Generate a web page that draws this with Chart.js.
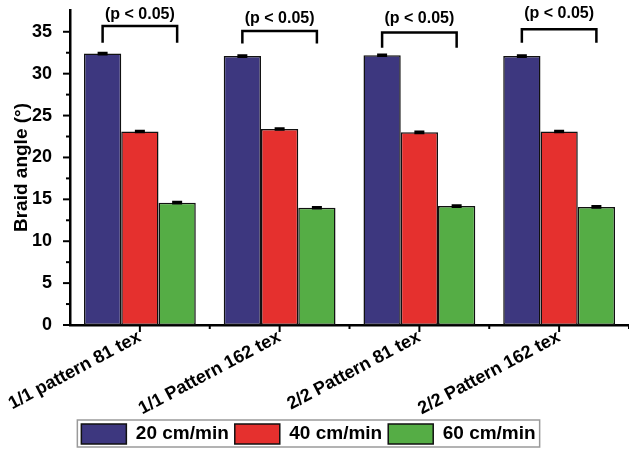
<!DOCTYPE html>
<html>
<head>
<meta charset="utf-8">
<script src="https://cdn.jsdelivr.net/npm/chart.js@4.4.1/dist/chart.umd.min.js"></script>
<style>
  html, body { margin:0; padding:0; background:#fff; }
  #wrap { width:629px; height:449px; }
</style>
</head>
<body>
<div id="wrap"><canvas id="c"></canvas></div>
<script>
// data
const categories = ['1/1 pattern 81 tex', '1/1 Pattern 162 tex', '2/2 Pattern 81 tex', '2/2 Pattern 162 tex'];
const seriesNames = ['20 cm/min', '40 cm/min', '60 cm/min'];
const speed20 = [32.4, 32.1, 32.2, 32.1];
const speed40 = [23.1, 23.4, 23.0, 23.1];
const speed60 = [14.6, 14.0, 14.2, 14.1];
const err20 = [0.1, 0.1, 0.1, 0.1];
const err40 = [0.1, 0.1, 0.1, 0.1];
const err60 = [0.1, 0.1, 0.1, 0.1];
const yTicks = [0, 5, 10, 15, 20, 25, 30, 35];
const pLabel = '(p < 0.05)';
const bracketTop = [35.7, 35.1, 34.9, 35.3];
const bracketLeg = [33.7, 33.6, 33.1, 33.7];
const pTextAt = [37.05, 36.6, 36.6, 37.2];

const COLORS = ['#3d377f', '#e5302e', '#55ad45'];
const FONT = "'Liberation Sans', Arial, sans-serif";
const INK = '#000';

const values = [speed20, speed40, speed60];
const errors = [err20, err40, err60];

const extras = {
  id: 'extras',
  afterLayout(chart) {
    // legend box sits a little left of centre in the figure
    chart.legend.left -= 6;
    chart.legend.right -= 6;
  },
  afterDatasetsDraw(chart) {
    const { ctx, scales: { y } } = chart;
    ctx.save();
    ctx.strokeStyle = INK;
    ctx.lineWidth = 2;
    values.forEach((vals, d) => {
      chart.getDatasetMeta(d).data.forEach((bar, i) => {
        const hi = y.getPixelForValue(vals[i] + errors[d][i]);
        const lo = y.getPixelForValue(vals[i] - errors[d][i]);
        ctx.beginPath();
        ctx.moveTo(bar.x, hi); ctx.lineTo(bar.x, lo);
        ctx.moveTo(bar.x - 5, hi); ctx.lineTo(bar.x + 5, hi);
        ctx.moveTo(bar.x - 5, lo); ctx.lineTo(bar.x + 5, lo);
        ctx.stroke();
      });
    });
    ctx.restore();
  },
  afterDraw(chart) {
    const { ctx, chartArea: a, scales: { x, y } } = chart;
    ctx.save();
    ctx.strokeStyle = INK;
    ctx.lineWidth = 2;
    // y ticks, major + minor
    for (let v = 0; v <= 35; v += 2.5) {
      const py = y.getPixelForValue(v);
      const len = v % 5 === 0 ? 7 : 4;
      ctx.beginPath(); ctx.moveTo(a.left - len, py); ctx.lineTo(a.left, py); ctx.stroke();
    }
    // x ticks
    categories.forEach((c, i) => {
      const px = x.getPixelForValue(i);
      ctx.beginPath(); ctx.moveTo(px, a.bottom); ctx.lineTo(px, a.bottom + 7); ctx.stroke();
      const bx = x.getPixelForValue(i + 0.5);
      ctx.beginPath(); ctx.moveTo(bx, a.bottom); ctx.lineTo(bx, a.bottom + 4); ctx.stroke();
    });
    // significance brackets
    const m0 = chart.getDatasetMeta(0), m2 = chart.getDatasetMeta(2);
    ctx.lineWidth = 2.5;
    ctx.fillStyle = INK;
    ctx.font = 'bold 16px ' + FONT;
    ctx.textAlign = 'center';
    ctx.textBaseline = 'middle';
    categories.forEach((c, i) => {
      const x1 = m0.data[i].x, x2 = m2.data[i].x;
      const yt = y.getPixelForValue(bracketTop[i]);
      const yl = y.getPixelForValue(bracketLeg[i]);
      ctx.beginPath();
      ctx.moveTo(x1, yl); ctx.lineTo(x1, yt); ctx.lineTo(x2, yt); ctx.lineTo(x2, yl);
      ctx.stroke();
      ctx.fillText(pLabel, (x1 + x2) / 2, y.getPixelForValue(pTextAt[i]));
    });
    // legend frame
    const hb = chart.legend.legendHitBoxes;
    if (hb && hb.length) {
      const last = hb[hb.length - 1];
      const l = hb[0].left - 4, r = last.left + last.width + 4;
      const t = hb[0].top - 4, b = hb[0].top + 23;
      ctx.strokeStyle = '#9a9a9a';
      ctx.lineWidth = 1.5;
      ctx.strokeRect(l, t, r - l, b - t);
    }
    ctx.restore();
  }
};

new Chart(document.getElementById('c'), {
  type: 'bar',
  data: {
    labels: categories,
    datasets: seriesNames.map((name, d) => ({
      label: name,
      data: values[d],
      backgroundColor: COLORS[d],
      borderColor: '#111',
      borderWidth: 1.5,
      borderSkipped: false,
      categoryPercentage: 0.8,
      barPercentage: 1.0,
    })),
  },
  options: {
    responsive: true, maintainAspectRatio: false,
    animation: false,
    layout: { padding: { left: 0, right: 0, top: 10, bottom: -5 } },
    plugins: {
      tooltip: { enabled: false },
      legend: {
        position: 'bottom',
        labels: {
          color: INK, font: { family: FONT, size: 19, weight: 'bold' },
          boxWidth: 45, boxHeight: 20, padding: 6,
        },
      },
    },
    scales: {
      x: {
        grid: { display: false, drawTicks: false },
        border: { display: true, color: INK, width: 2.5 },
        ticks: {
          color: INK, font: { family: FONT, size: 18, weight: 'bold', lineHeight: 1 },
          maxRotation: 28, minRotation: 28, autoSkip: false, padding: 3,
        },
        afterFit: s => { s.height = 93; s.paddingLeft = 0; s.paddingRight = 0; },
      },
      y: {
        min: 0, max: 37.6,
        grid: { display: false },
        border: { display: true, color: INK, width: 2.5 },
        afterBuildTicks: s => { s.ticks = yTicks.map(v => ({ value: v })); },
        ticks: { color: INK, font: { family: FONT, size: 18, weight: 'bold' }, padding: 10 },
        title: {
          display: true, text: 'Braid angle (°)', color: INK,
          font: { family: FONT, size: 19, weight: 'bold' }, padding: { top: 10, bottom: 0 },
        },
        afterFit: s => { s.width = 70; s.paddingTop = 0; s.paddingBottom = 0; },
      },
    },
  },
  plugins: [extras],
});
</script>
</body>
</html>
